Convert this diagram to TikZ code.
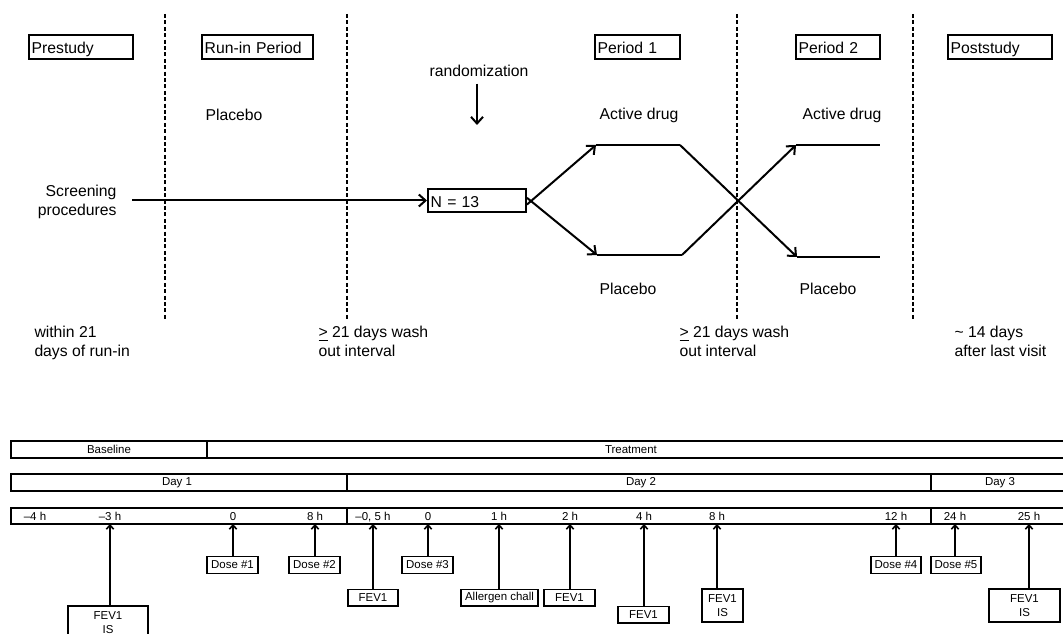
\documentclass[tikz,border=0pt]{standalone}
\usepackage{fontspec}
\setmainfont{Liberation Sans}
\usetikzlibrary{arrows.meta}

\tikzset{every picture/.style={line width=0.75pt}}
\tikzset{
	stagebox/.style={draw, line width=1.5, align=left, text width=#1, inner xsep=2pt, inner ysep=0pt, text height=11pt, text depth=1pt, minimum height=18pt},
	bigtxt/.style={font=\fontsize{11.8}{14.3}\selectfont},
	smalltxt/.style={font=\fontsize{8.6}{10}\selectfont},
	tlabel/.style={smalltxt, text height=6.2pt, text depth=0pt},
	sbox/.style={draw, line width=1.1, smalltxt, inner sep=0pt, align=center, minimum height=12.4pt, minimum width=#1},
	arr/.style={line width=1.5, -{Straight Barb[length=5pt,width=9pt,line width=1.5pt]}},
	tarr/.style={line width=1.2, -{Straight Barb[length=3pt,width=5.5pt,line width=1.2pt]}},
	phase/.style={line width=1.5, dash pattern=on 3pt off 1.8pt},
	bar/.style={line width=1.1}
}

\begin{document}
\begin{tikzpicture}[x=0.75pt,y=0.75pt,yscale=-1,xscale=1,bigtxt]
	\useasboundingbox (0,0) rectangle (1063,634);
	\clip (0,0) rectangle (1063,634);

	%Dashed phase borders
	\foreach \px in {165,347,737,913}
		\draw [phase] (\px,14) -- (\px,320) ;

	%Stage boxes
	\draw (81,47) node [stagebox=74pt] (pre) {Prestudy};
	\draw (257.5,47) node [stagebox=79.25pt] (runin) {Run-in Period};
	\draw (637.5,47) node [stagebox=59.75pt] (per1) {Period 1};
	\draw (838,47) node [stagebox=59pt] (per2) {Period 2};
	\draw (1000,47) node [stagebox=74pt] (post) {Poststudy};

	% Text Node
	\draw (234,115) node (plc0) {Placebo};
	% Text Node
	\draw (117,202) node [anchor=east, align=right, inner sep=0pt] (scr) {Screening\\procedures};
	% Text Node
	\draw (479,71) node (rand) {randomization};
	% Text Node
	\draw (639,115) node (act1) {Active drug};
	% Text Node
	\draw (842,115) node (act2) {Active drug};
	% Text Node
	\draw (628,289) node (plc1) {Placebo};
	% Text Node
	\draw (828,289) node (plc2) {Placebo};

	%Randomized group
	\draw (477,200.5) node [stagebox=69.5pt, minimum height=17.25pt] (grp) {N = 13};

	\coordinate (scrend) at (132,200.5);
	\coordinate (randend) at (477,125);
	\coordinate (a1) at (596,145);
	\coordinate (a2) at (680,145);
	\coordinate (p1) at (597,255);
	\coordinate (p2) at (682,255);
	\coordinate (b1) at (796,145);
	\coordinate (b2) at (880,145);
	\coordinate (q1) at (797,257);
	\coordinate (q2) at (880,257);

	%Flow lines
	\draw [arr] (scrend) -- (grp.west) ;
	\draw [arr] (rand.south) ++(-2,2) -- (randend) ;
	\draw [arr] ([yshift=3pt]grp.east) -- (a1) ;
	\draw [line width=1.5] (a1) -- (a2) ;
	\draw [arr] (a2) -- (q1) ;
	\draw [line width=1.5] (q1) -- (q2) ;
	\draw [arr] ([yshift=-2pt]grp.east) -- (p1) ;
	\draw [line width=1.5] (p1) -- (p2) ;
	\draw [arr] (p2) -- (b1) ;
	\draw [line width=1.5] (b1) -- (b2) ;

	% Text Node
	\draw (34,326) node [anchor=north west, align=left, inner sep=0pt] (note1) {within 21\\days of run-in};
	% Text Node
	\draw (318,326) node [anchor=north west, align=left, inner sep=0pt] (note2) {\underline{>} 21 days wash\\out interval};
	% Text Node
	\draw (679,326) node [anchor=north west, align=left, inner sep=0pt] (note3) {\underline{>} 21 days wash\\out interval};
	% Text Node
	\draw (954,326) node [anchor=north west, align=left, inner sep=0pt] (note4) {\textasciitilde\ 14 days\\after last visit};

	%Bars
	\draw [bar] (11,441) rectangle (1075,458) (207,441) -- (207,458) ;
	\draw [bar] (11,474) rectangle (1075,491) (347,474) -- (347,491) (931,474) -- (931,491) ;
	\draw [bar] (11,508) rectangle (1075,524) (347,508) -- (347,524) (931,508) -- (931,524) ;
	\coordinate (tlb) at (0,524);

	\draw (109,449.5) node [smalltxt] (base) {Baseline};
	\draw (631,449.5) node [smalltxt] (treat) {Treatment};
	\draw (177,483) node [smalltxt] (day1) {Day 1};
	\draw (641,483) node [smalltxt] (day2) {Day 2};
	\draw (1000,483) node [smalltxt] (day3) {Day 3};

	%Time points
	\draw (35,516) node [tlabel] (t1) {--4 h};
	\draw (110,516) node [tlabel] (t2) {--3 h};
	\draw (233,516) node [tlabel] (t3) {0};
	\draw (315,516) node [tlabel] (t4) {8 h};
	\draw (373,516) node [tlabel] (t5) {--0, 5 h};
	\draw (428,516) node [tlabel] (t6) {0};
	\draw (499,516) node [tlabel] (t7) {1 h};
	\draw (570,516) node [tlabel] (t8) {2 h};
	\draw (644,516) node [tlabel] (t9) {4 h};
	\draw (717,516) node [tlabel] (t10) {8 h};
	\draw (896,516) node [tlabel] (t11) {12 h};
	\draw (955,516) node [tlabel] (t12) {24 h};
	\draw (1029,516) node [tlabel] (t13) {25 h};

	%Events
	\draw (108,622.5) node [sbox=60pt, minimum height=24.75pt] (fev1) {FEV1\\IS};
	\draw (232.5,565) node [sbox=38.25pt] (dose1) {Dose \#1};
	\draw (314.5,565) node [sbox=38.25pt] (dose2) {Dose \#2};
	\draw (373,597.5) node [sbox=37.5pt] (fev2) {FEV1};
	\draw (427.5,565) node [sbox=38.25pt] (dose3) {Dose \#3};
	\draw (499.5,597.5) node [sbox=57.75pt] (allerg) {Allergen chall};
	\draw (569.5,597.5) node [sbox=38.25pt] (fev3) {FEV1};
	\draw (643.5,614.5) node [sbox=38.25pt] (fev4) {FEV1};
	\draw (722.5,605.5) node [sbox=30.75pt, minimum height=24.75pt] (fev5) {FEV1\\IS};
	\draw (896,565) node [sbox=37.5pt] (dose4) {Dose \#4};
	\draw (956,565) node [sbox=37.5pt] (dose5) {Dose \#5};
	\draw (1024.5,605.5) node [sbox=53.25pt, minimum height=24.75pt] (fev6) {FEV1\\IS};

	\draw [tarr] (t2 |- fev1.north) -- (t2 |- tlb) ;
	\draw [tarr] (t3 |- dose1.north) -- (t3 |- tlb) ;
	\draw [tarr] (t4 |- dose2.north) -- (t4 |- tlb) ;
	\draw [tarr] (t5 |- fev2.north) -- (t5 |- tlb) ;
	\draw [tarr] (t6 |- dose3.north) -- (t6 |- tlb) ;
	\draw [tarr] (t7 |- allerg.north) -- (t7 |- tlb) ;
	\draw [tarr] (t8 |- fev3.north) -- (t8 |- tlb) ;
	\draw [tarr] (t9 |- fev4.north) -- (t9 |- tlb) ;
	\draw [tarr] (t10 |- fev5.north) -- (t10 |- tlb) ;
	\draw [tarr] (t11 |- dose4.north) -- (t11 |- tlb) ;
	\draw [tarr] (t12 |- dose5.north) -- (t12 |- tlb) ;
	\draw [tarr] (t13 |- fev6.north) -- (t13 |- tlb) ;

\end{tikzpicture}
\end{document}
